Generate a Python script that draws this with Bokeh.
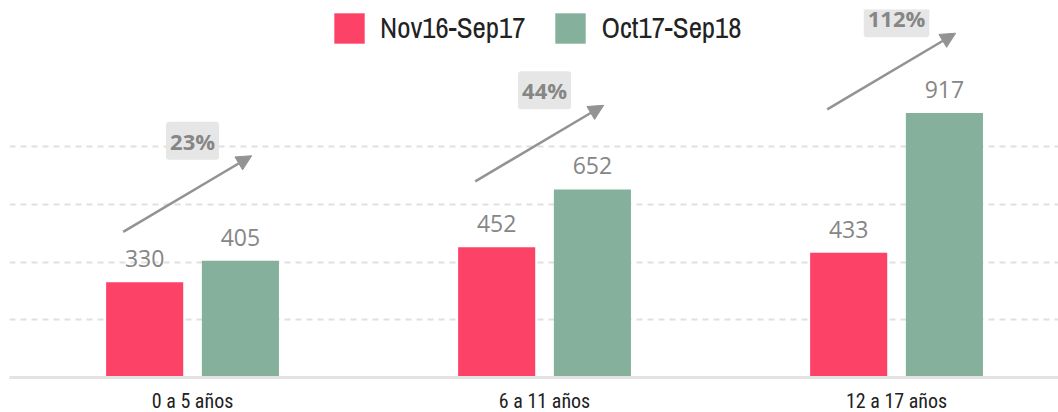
from bokeh.plotting import figure
from bokeh.models import (ColumnDataSource, Range1d, FixedTicker, LabelSet, Label, Arrow,
                          NormalHead, Legend, LegendItem)
from bokeh.core.properties import value
from bokeh.transform import dodge
from bokeh.embed import file_html
from bokeh.resources import INLINE

# ---- data ----
categories = ["0 a 5 años", "6 a 11 años", "12 a 17 años"]
series_names = ["Nov16-Sep17", "Oct17-Sep18"]
values_1617 = [330, 452, 433]
values_1718 = [405, 652, 917]
arrow_base = [505, 680, 930]   # where each growth arrow starts (value units)

PINK = "#fd4267"
GREEN = "#85b09b"
GREY_TXT = "#868686"
NUM_FONT = "Open Sans"
LEG_FONT = "Archivo Narrow"
CAT_FONT = "Roboto Condensed"

idx = list(range(len(categories)))
pct = [f"{round((b - a) / a * 100):d}%" for a, b in zip(values_1617, values_1718)]
lbl_a = [str(v) for v in values_1617]
lbl_b = [str(v) for v in values_1718]

ARROW_RISE = 264
src = ColumnDataSource(dict(
    idx=idx, a=values_1617, b=values_1718, la=lbl_a, lb=lbl_b, pct=pct,
    ax0=[i - 0.197 for i in idx], ax1=[i + 0.168 for i in idx],
    ay0=arrow_base, ay1=[y + ARROW_RISE for y in arrow_base],
))

FW, FH = 1049, 368
PX = 352.0
X0 = -0.52
p = figure(frame_width=FW, frame_height=FH, x_range=Range1d(X0, X0 + FW / PX),
           y_range=Range1d(0, FH / 57.67 * 200), output_backend="svg",
           toolbar_location=None, min_border_left=9, min_border_right=0,
           min_border_top=9, min_border_bottom=0)
p.outline_line_color = None
p.background_fill_color = "white"
p.border_fill_color = "white"

BW = 0.219
OFF = 0.136
r1 = p.vbar(x=dodge("idx", -OFF, range=p.x_range), top="a", width=BW, source=src,
            fill_color=PINK, line_color=None)
r2 = p.vbar(x=dodge("idx", OFF, range=p.x_range), top="b", width=BW, source=src,
            fill_color=GREEN, line_color=None)

# value labels
for col, ycol, off in (("la", "a", -OFF), ("lb", "b", OFF)):
    p.add_layout(LabelSet(x=dodge("idx", off, range=p.x_range), y=ycol, text=col, source=src,
                          text_align="center", text_baseline="bottom", y_offset=15,
                          text_font=value(NUM_FONT), text_font_size="23px",
                          text_color=GREY_TXT))

# arrows
p.add_layout(Arrow(x_start="ax0", y_start="ay0", x_end="ax1", y_end="ay1", source=src,
                   line_color="#939393", line_width=2.5,
                   end=NormalHead(size=15, fill_color="#939393", line_color="#939393",
                                  line_width=1)))

# percent labels
for i, t, y in zip(idx, pct, src.data["ay1"]):
    p.add_layout(Label(x=i, y=y, text=t, text_align="center",
                       text_baseline="middle", y_offset=15, text_font=NUM_FONT,
                       text_font_style="bold", text_font_size="22px", text_color=GREY_TXT,
                       background_fill_color="#e6e6e6", border_radius=3, padding=4))

# axes & grid
p.yaxis.visible = False
p.xgrid.visible = False
p.ygrid.ticker = FixedTicker(ticks=[200, 400, 600, 800])
p.ygrid.grid_line_color = "#e0e0e0"
p.ygrid.grid_line_width = 2
p.ygrid.grid_line_dash = "6 5"

ax = p.xaxis[0]
ax.ticker = FixedTicker(ticks=idx)
ax.major_label_overrides = {i: c for i, c in zip(idx, categories)}
ax.major_tick_line_color = None
ax.minor_tick_line_color = None
ax.major_tick_out = 0
ax.major_tick_in = 0
ax.axis_line_color = "#e3e3e3"
ax.axis_line_width = 3
ax.major_label_text_font = CAT_FONT
ax.major_label_text_font_size = "20px"
ax.major_label_text_color = "#222222"
ax.major_label_standoff = 11

legend = Legend(items=[LegendItem(label=series_names[0], renderers=[r1]),
                       LegendItem(label=series_names[1], renderers=[r2])],
                orientation="horizontal", location=(321, FH - 38),
                glyph_width=38, glyph_height=38, label_height=38, label_standoff=12,
                spacing=26, padding=0, margin=0, border_line_alpha=0,
                background_fill_alpha=0, label_text_font=LEG_FONT,
                label_text_font_size="29px", label_text_color="#222222")
p.add_layout(legend)

open("out.html", "w").write(file_html(p, INLINE))
